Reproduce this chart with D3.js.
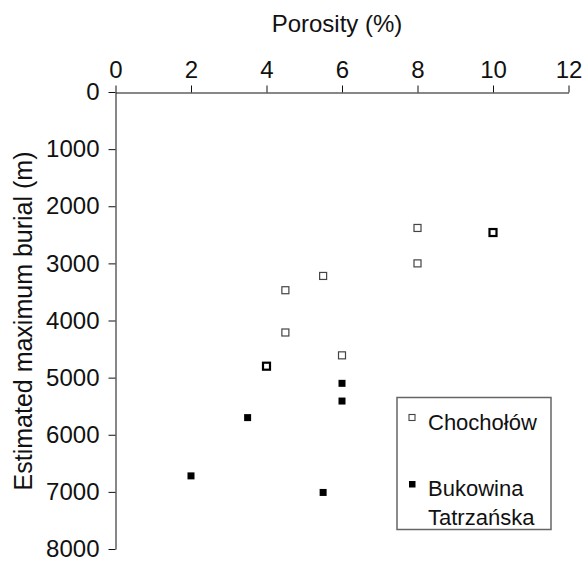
<!DOCTYPE html>
<html>
<head>
<meta charset="utf-8">
<script src="https://d3js.org/d3.v7.min.js"></script>
<style>
  body { margin: 0; background: #fff; }
  svg text { font-family: "Liberation Sans", Arial, sans-serif; fill: #111; }
</style>
</head>
<body>
<div id="chart"></div>
<script>
// data
const xTicks = [0, 2, 4, 6, 8, 10, 12];
const yTicks = [0, 1000, 2000, 3000, 4000, 5000, 6000, 7000, 8000];

// Chochołów (open squares); repeated pairs are overlapping samples
const chochPorosity = [8, 10, 10, 8, 5.5, 4.5, 4.5, 6, 4, 4];
const chochBurial   = [2380, 2460, 2460, 3000, 3220, 3470, 4210, 4610, 4800, 4800];

// Bukowina Tatrzańska (filled squares)
const bukPorosity = [6, 6, 3.5, 2, 5.5];
const bukBurial   = [5100, 5410, 5700, 6720, 7010];

const seriesNames = ["Chochołów", ["Bukowina", "Tatrzańska"]];

const width = 583, height = 561;

const svg = d3.select("#chart").append("svg")
    .attr("width", width)
    .attr("height", height);

const x = d3.scaleLinear().domain([0, 12]).range([115.5, 568.5]);
const y = d3.scaleLinear().domain([0, 8000]).range([92, 549]);

// x axis on top
const gx = svg.append("g")
    .attr("transform", "translate(0,92.5)")
    .call(d3.axisTop(x).tickValues(xTicks).tickSize(7).tickSizeOuter(0).tickPadding(8));
gx.selectAll("text").style("font-size", "24px");

// y axis on left
const gy = svg.append("g")
    .attr("transform", "translate(115.5,0)")
    .call(d3.axisLeft(y).tickValues(yTicks).tickFormat(d3.format("d"))
      .tickSize(7).tickSizeOuter(0).tickPadding(9));
gy.selectAll("text").style("font-size", "24px");

svg.selectAll(".domain, .tick line").attr("stroke", "#111").attr("stroke-width", 1);

// axis titles
svg.append("text")
    .attr("x", 337).attr("y", 32)
    .attr("text-anchor", "middle")
    .style("font-size", "24px")
    .text("Porosity (%)");

svg.append("text")
    .attr("transform", "translate(32,321) rotate(-90)")
    .attr("text-anchor", "middle")
    .style("font-size", "25px")
    .text("Estimated maximum burial (m)");

// points
const ms = 7;
const choch = chochPorosity.map((p, i) => ({ p: p, b: chochBurial[i] }));
const counts = d3.rollup(choch, v => v.length, d => d.p + "|" + d.b);
const chochUnique = Array.from(counts, ([k, n]) => {
  const [p, b] = k.split("|").map(Number);
  return { p: p, b: b, n: n };
});

svg.append("g").selectAll("rect")
  .data(chochUnique)
  .join("rect")
    .attr("x", d => x(d.p) - ms / 2)
    .attr("y", d => y(d.b) - ms / 2)
    .attr("width", ms).attr("height", ms)
    .attr("fill", "#fff")
    .attr("stroke", d => d.n > 1 ? "#000" : "#444")
    .attr("stroke-width", d => d.n > 1 ? 2.2 : 1.2);

svg.append("g").selectAll("rect")
  .data(bukPorosity.map((p, i) => ({ p: p, b: bukBurial[i] })))
  .join("rect")
    .attr("x", d => x(d.p) - ms / 2)
    .attr("y", d => y(d.b) - ms / 2)
    .attr("width", ms).attr("height", ms)
    .attr("fill", "#000");

// legend
const lg = svg.append("g");
lg.append("rect")
    .attr("x", 397).attr("y", 397.5)
    .attr("width", 154).attr("height", 132)
    .attr("fill", "#fff")
    .attr("stroke", "#666").attr("stroke-width", 1.5);

lg.append("rect")
    .attr("x", 409).attr("y", 414.5).attr("width", 6).attr("height", 6)
    .attr("fill", "#fff").attr("stroke", "#444").attr("stroke-width", 1.1);
lg.append("rect")
    .attr("x", 409).attr("y", 481).attr("width", 6.5).attr("height", 6.5)
    .attr("fill", "#000");

lg.append("text")
    .attr("x", 428).attr("y", 430)
    .style("font-size", "22px")
    .text(seriesNames[0]);
lg.append("text")
    .attr("x", 428).attr("y", 496)
    .style("font-size", "22px")
    .text(seriesNames[1][0]);
lg.append("text")
    .attr("x", 428).attr("y", 524.5)
    .style("font-size", "22px")
    .text(seriesNames[1][1]);
</script>
</body>
</html>
